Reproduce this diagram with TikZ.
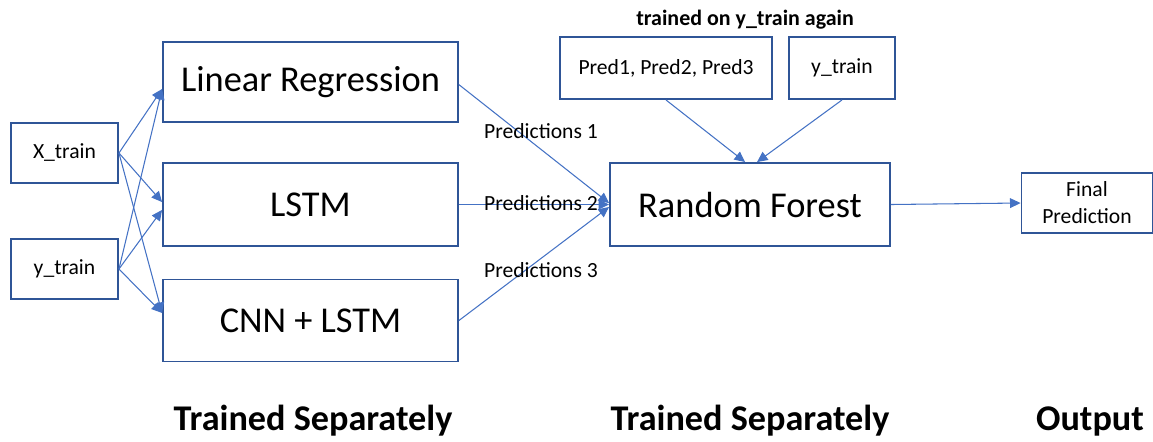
\documentclass[tikz,border=0pt]{standalone}
\usepackage{fontspec}
\setmainfont{Carlito}
\usepackage{tikz}
\usetikzlibrary{arrows.meta}

\definecolor{boxblue}{HTML}{2F5597}
\definecolor{lineblue}{HTML}{4472C4}

\tikzset{
  model/.style={draw=boxblue,line width=1.1pt,font=\fontsize{20.7}{24}\selectfont,inner sep=0pt},
  datum/.style={draw=boxblue,line width=1.1pt,font=\fontsize{12.3}{15.4}\selectfont,inner sep=0pt,align=center},
  link/.style={lineblue,line width=0.6pt,-{Triangle[length=6pt,width=5.6pt]}},
  plabel/.style={font=\fontsize{12.3}{15}\selectfont},
  caption/.style={font=\fontsize{20.6}{24}\selectfont\bfseries,anchor=base}
}

\begin{document}
\begin{tikzpicture}[x=0.02cm,y=-0.02cm]
%\draw[help lines] (0,0) grid (1153,441);
\useasboundingbox (0,0) rectangle (1153,441);

% Define the column positions
\pgfmathsetmacro{\Xin}{64.5};
\pgfmathsetmacro{\Xbase}{310.5};
\pgfmathsetmacro{\Xmeta}{750};
\pgfmathsetmacro{\Xout}{1087};

% draw the input boxes
\node[datum,minimum width=2.14cm,minimum height=1.2cm] (xtr) at (\Xin,153) {X\_train};
\node[datum,minimum width=2.14cm,minimum height=1.2cm] (ytr) at (\Xin,269) {y\_train};

% Draw the base models
\node[model,minimum width=5.9cm,minimum height=1.6cm] (lin) at (\Xbase,82) {Linear Regression};
\node[model,minimum width=5.9cm,minimum height=1.66cm] (lstm) at (\Xbase,204.5) {LSTM};
\node[model,minimum width=5.9cm,minimum height=1.64cm] (cnn) at (\Xbase,320.5) {CNN + LSTM};

% the stacking model and its inputs
\node[model,minimum width=5.6cm,minimum height=1.66cm] (rf) at (\Xmeta,204.5) {Random Forest};
\node[datum,minimum width=4.24cm,minimum height=1.24cm] (preds) at (666,68) {Pred1, Pred2, Pred3};
\node[datum,minimum width=2.12cm,minimum height=1.24cm] (ytop) at (842,68) {y\_train};
\node[font=\fontsize{12.5}{15}\selectfont\bfseries] (again) at (745,20) {trained on y\_train again};

% output
\node[datum,minimum width=2.62cm,minimum height=1.2cm] (final) at (\Xout,203) {Final\\Prediction};

% inputs to base models
\draw[link] (xtr.east) -- ([yshift=-4pt]lin.west);
\draw[link] (ytr.east) -- ([yshift=-4pt]lin.west);
\draw[link] (xtr.east) -- ([yshift=1.4pt]lstm.west);
\draw[link] (ytr.east) -- ([yshift=-3.1pt]lstm.west);
\draw[link] (xtr.east) -- ([yshift=4.3pt]cnn.west);
\draw[link] (ytr.east) -- ([yshift=4.3pt]cnn.west);

% predictions into the random forest
\draw[link] ([yshift=-1.5pt]lin.east) -- ([yshift=0.8pt]rf.west);
\draw[link] (lstm.east) -- (rf.west);
\draw[link] (cnn.east) -- ([yshift=-1.4pt]rf.west);
\node[plabel] (p1) at (541,131) {Predictions 1};
\node[plabel] (p2) at (541,203) {Predictions 2};
\node[plabel] (p3) at (541,270) {Predictions 3};

\draw[link] (preds.south) -- ([xshift=-2.8pt]rf.north);
\draw[link] (ytop.south) -- ([xshift=4pt]rf.north);
\draw[link] (rf.east) -- (final.west);

% column captions
\node[caption] (cap1) at (313,430) {Trained Separately};
\node[caption] (cap2) at (750,430) {Trained Separately};
\node[caption] (cap3) at (1090,430) {Output};
\end{tikzpicture}
\end{document}
